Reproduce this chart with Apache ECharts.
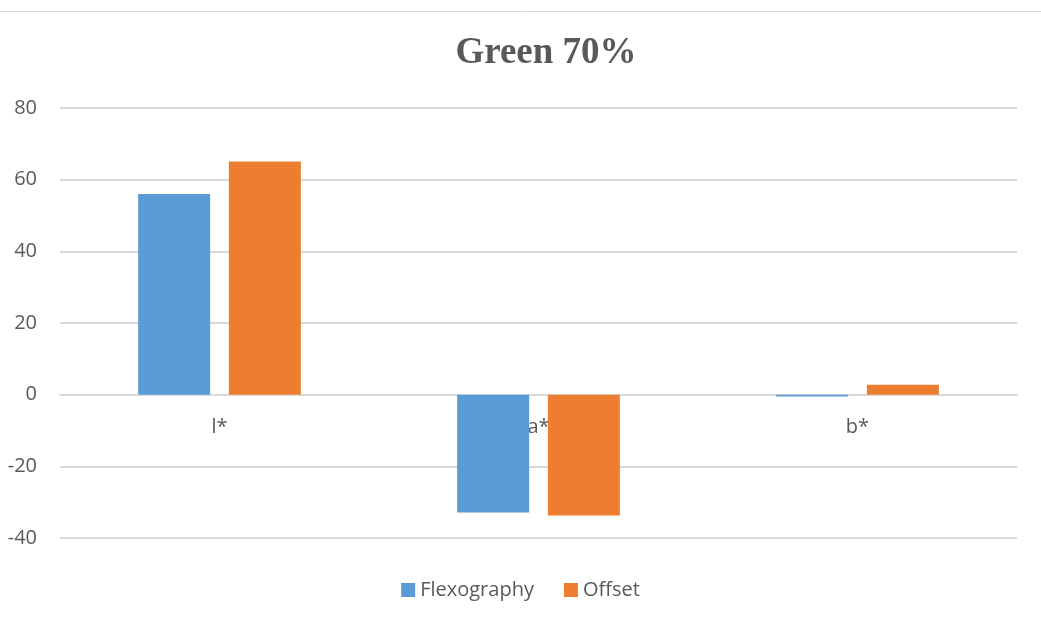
<!DOCTYPE html>
<html>
<head>
<meta charset="utf-8">
<style>
  html, body { margin: 0; padding: 0; background: #fff; }
  #chart { width: 1041px; height: 621px; }
</style>
<script src="https://cdn.jsdelivr.net/npm/echarts@6/dist/echarts.min.js"></script>
</head>
<body>
<div id="chart"></div>
<script>
// Colour-difference components for the 70% green patch
const categories = ['l*', 'a*', 'b*'];
const flexography = [56.0, -32.9, -0.5];
const offset = [65.1, -33.7, 2.8];
const seriesNames = ['Flexography', 'Offset'];
const yMin = -40, yMax = 80, yStep = 20;

const chart = echarts.init(document.getElementById('chart'));
const textColor = '#595959';
const uiFont = '"Open Sans", "Noto Sans", sans-serif';

const grid = { left: 60, right: 24, top: 108, bottom: 83 };
const plotHeight = 621 - grid.top - grid.bottom;
// lift the category axis from the bottom edge up to the zero line
const zeroLift = -plotHeight * (0 - yMin) / (yMax - yMin);

chart.setOption({
  animation: false,
  backgroundColor: '#fff',
  title: {
    text: 'Green 70%',
    left: 541,
    textAlign: 'center',
    top: 30,
    textStyle: {
      fontFamily: '"Liberation Serif", "Times New Roman", serif',
      fontSize: 37,
      fontWeight: 'bold',
      color: textColor
    }
  },
  graphic: [{
    type: 'line',
    shape: { x1: 0, y1: 11.5, x2: 1041, y2: 11.5 },
    style: { stroke: '#d9d9d9', lineWidth: 1 }
  }],
  legend: {
    data: seriesNames,
    bottom: 16,
    left: 'center',
    itemWidth: 14,
    itemHeight: 14,
    itemGap: 30,
    icon: 'rect',
    textStyle: { fontFamily: uiFont, fontSize: 20, color: textColor }
  },
  grid: Object.assign({ containLabel: false }, grid),
  xAxis: {
    type: 'category',
    data: categories,
    offset: zeroLift,
    axisLine: { show: true, onZero: false, lineStyle: { color: '#d9d9d9', width: 2 } },
    axisTick: { show: false },
    axisLabel: { margin: 23, fontFamily: uiFont, fontSize: 20, color: textColor }
  },
  yAxis: {
    type: 'value',
    min: yMin,
    max: yMax,
    interval: yStep,
    axisLine: { show: false },
    axisTick: { show: false },
    splitLine: { lineStyle: { color: '#d9d9d9', width: 2 } },
    axisLabel: { margin: 23, fontFamily: uiFont, fontSize: 20, color: textColor }
  },
  series: [
    {
      name: seriesNames[0],
      type: 'bar',
      data: flexography,
      barWidth: 72,
      barGap: '26%',
      itemStyle: { color: '#5b9bd5' }
    },
    {
      name: seriesNames[1],
      type: 'bar',
      data: offset,
      barWidth: 72,
      itemStyle: { color: '#ed7d31' }
    }
  ]
});
</script>
</body>
</html>
